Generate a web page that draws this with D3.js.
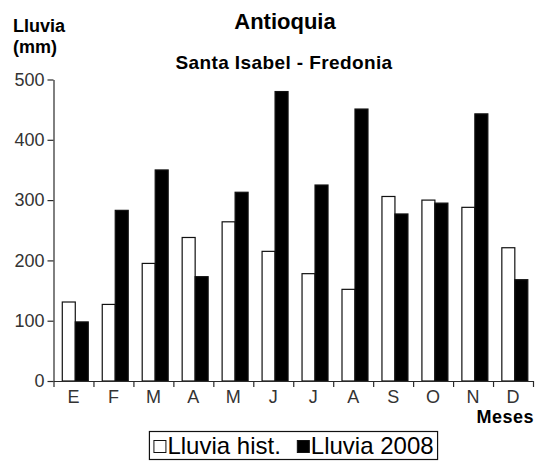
<!DOCTYPE html>
<html>
<head>
<meta charset="utf-8">
<script src="https://cdn.jsdelivr.net/npm/d3@7"></script>
<style>
  body { margin: 0; background: #fff; }
  svg { display: block; }
  text { font-family: "Liberation Sans", Arial, Helvetica, sans-serif; }
</style>
</head>
<body>
<svg id="chart" width="540" height="462"></svg>
<script>
// Monthly rainfall, Santa Isabel - Fredonia (Antioquia)
const months = ["E", "F", "M", "A", "M", "J", "J", "A", "S", "O", "N", "D"];
const seriesNames = ["Lluvia hist.", "Lluvia 2008"];
const lluviaHist = [131, 127, 195, 238, 264, 215, 178, 152, 306, 300, 288, 221];
const lluvia2008 = [98, 283, 350, 173, 313, 480, 325, 451, 277, 295, 443, 168];
const yTicks = [0, 100, 200, 300, 400, 500];

const seriesFill = { "Lluvia hist.": "#ffffff", "Lluvia 2008": "#000000" };

const svg = d3.select("#chart");
const W = 540, H = 462;
const m = { left: 53.5, right: 7, top: 79.5, bottom: 81 };
const plotRight = W - m.right;
const plotBottom = H - m.bottom;

const rows = months.map((mo, i) => ({
  i, month: mo,
  values: [
    { key: seriesNames[0], value: lluviaHist[i] },
    { key: seriesNames[1], value: lluvia2008[i] }
  ]
}));

const x = d3.scaleBand()
  .domain(d3.range(months.length))
  .range([m.left, plotRight])
  .padding(0);

const xInner = d3.scaleBand()
  .domain(seriesNames)
  .range([x.bandwidth() * 0.22, x.bandwidth() * 0.87])
  .padding(0);

const xEdges = d3.scaleLinear()
  .domain([0, months.length])
  .range([m.left, plotRight]);

const y = d3.scaleLinear()
  .domain([0, 500])
  .range([plotBottom, m.top]);

const axisColor = "#2a2a2a";

// bars
const groups = svg.append("g").selectAll("g")
  .data(rows)
  .join("g")
  .attr("transform", d => `translate(${x(d.i)},0)`);

groups.selectAll("rect")
  .data(d => d.values)
  .join("rect")
  .attr("x", d => xInner(d.key))
  .attr("width", xInner.bandwidth())
  .attr("y", d => y(d.value))
  .attr("height", d => y(0) - y(d.value))
  .attr("fill", d => seriesFill[d.key])
  .attr("stroke", "#111")
  .attr("stroke-width", 1.2);

// y axis
const yAxis = svg.append("g")
  .attr("transform", `translate(${m.left},0)`)
  .call(d3.axisLeft(y).tickValues(yTicks).tickSize(6).tickSizeOuter(0).tickPadding(3));
yAxis.select(".domain").attr("stroke", axisColor).attr("stroke-width", 1.2);
yAxis.selectAll(".tick line").attr("stroke", axisColor).attr("stroke-width", 1.2);
yAxis.selectAll(".tick text")
  .attr("font-size", 18).attr("fill", "#333")
  .style("font-family", "'Liberation Sans', Arial, sans-serif");

// x axis: tick marks at month boundaries
const xAxisEdges = svg.append("g")
  .attr("transform", `translate(0,${plotBottom})`)
  .call(d3.axisBottom(xEdges).tickValues(d3.range(months.length + 1)).tickSize(6).tickSizeOuter(0).tickFormat(""));
xAxisEdges.select(".domain").attr("stroke", axisColor).attr("stroke-width", 1.2);
xAxisEdges.selectAll(".tick line").attr("stroke", axisColor).attr("stroke-width", 1.2);

// x axis: month labels at band centres
const xAxisLabels = svg.append("g")
  .attr("transform", `translate(0,${plotBottom})`)
  .call(d3.axisBottom(x).tickSize(0).tickPadding(9).tickFormat(i => months[i]));
xAxisLabels.select(".domain").remove();
xAxisLabels.selectAll(".tick text")
  .attr("font-size", 18).attr("fill", "#333")
  .style("font-family", "'Liberation Sans', Arial, sans-serif");

// titles
svg.append("text")
  .attr("x", 285).attr("y", 29)
  .attr("text-anchor", "middle")
  .attr("font-size", 22).attr("font-weight", "bold")
  .text("Antioquia");

svg.append("text")
  .attr("x", 284).attr("y", 69)
  .attr("text-anchor", "middle")
  .attr("font-size", 19).attr("font-weight", "bold")
  .attr("letter-spacing", 0.4)
  .text("Santa Isabel - Fredonia");

// axis titles
const yTitle = svg.append("text")
  .attr("x", 13).attr("y", 31.5)
  .attr("font-size", 18).attr("font-weight", "bold");
yTitle.append("tspan").attr("x", 13).text("Lluvia");
yTitle.append("tspan").attr("x", 13).attr("dy", 21.5).text("(mm)");

svg.append("text")
  .attr("x", 534).attr("y", 423)
  .attr("text-anchor", "end")
  .attr("font-size", 18).attr("font-weight", "bold")
  .attr("letter-spacing", 0.5)
  .text("Meses");

// legend
const legend = svg.append("g");
const legendBaseline = 453.5;
const sq = 13;
const itemGap = 16;
let cursor = 0;
const items = legend.selectAll("g")
  .data(seriesNames)
  .join("g");
items.each(function (name) {
  const g = d3.select(this);
  g.append("rect")
    .attr("x", 0.5).attr("y", legendBaseline - sq)
    .attr("width", sq - 1).attr("height", sq - 1)
    .attr("fill", seriesFill[name])
    .attr("stroke", "#111").attr("stroke-width", 1);
  const t = g.append("text")
    .attr("x", sq + 1).attr("y", legendBaseline)
    .attr("font-size", 24)
    .text(name);
  const w = sq + 1 + t.node().getComputedTextLength();
  g.attr("transform", `translate(${cursor},0)`);
  cursor += w + itemGap;
});
const legendWidth = cursor - itemGap;
const boxPad = 4;
const legendCenter = 293.5;
const startX = legendCenter - legendWidth / 2;
legend.attr("transform", `translate(${startX},0)`);
legend.insert("rect", ":first-child")
  .attr("x", -boxPad).attr("y", 431.5)
  .attr("width", legendWidth + boxPad * 2).attr("height", 28)
  .attr("fill", "#fff").attr("stroke", "#111").attr("stroke-width", 1.2);
</script>
</body>
</html>
